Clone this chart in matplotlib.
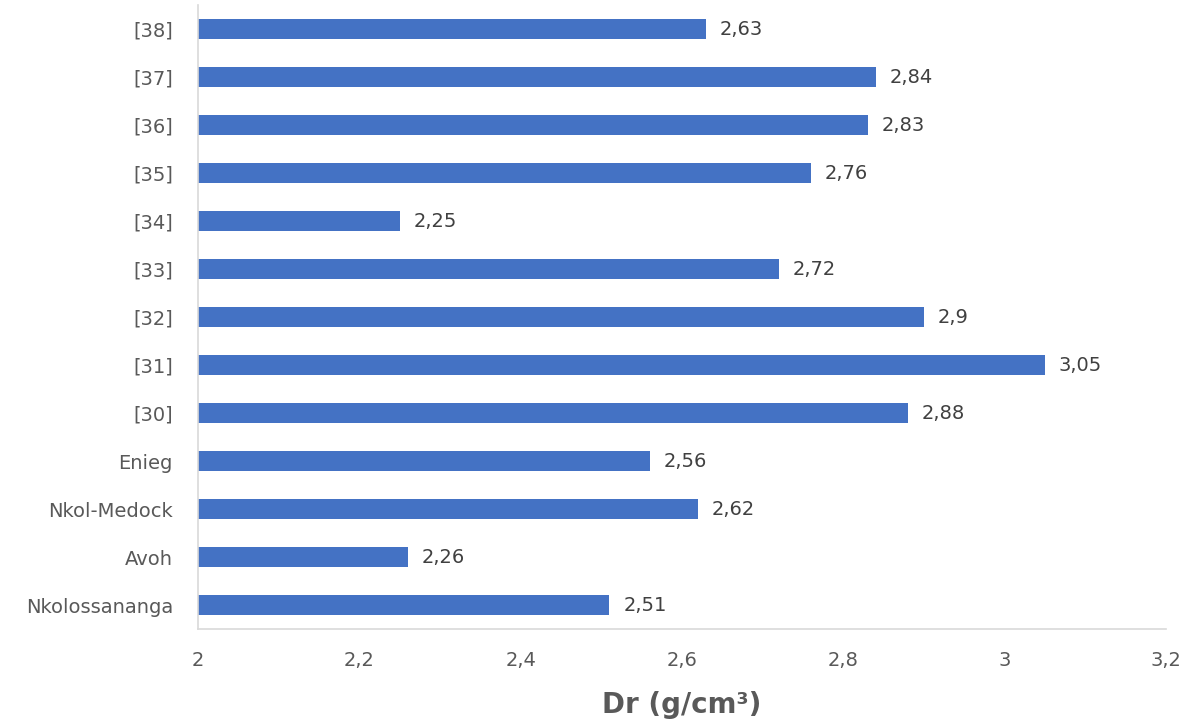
import matplotlib
matplotlib.use("Agg")
import matplotlib.pyplot as plt
from matplotlib.ticker import FuncFormatter

categories = ["Nkolossananga", "Avoh", "Nkol-Medock", "Enieg", "[30]", "[31]", "[32]",
              "[33]", "[34]", "[35]", "[36]", "[37]", "[38]"]
values = [2.51, 2.26, 2.62, 2.56, 2.88, 3.05, 2.9, 2.72, 2.25, 2.76, 2.83, 2.84, 2.63]
xticks = [2, 2.2, 2.4, 2.6, 2.8, 3, 3.2]

plt.rcParams['font.family'] = ['DejaVu Sans']

fig = plt.figure(figsize=(11.89, 7.27), dpi=100)
ax = fig.add_axes([0.1665, 0.1348, 0.8142, 0.858])
y = list(range(len(categories)))
ax.barh(y, [v - 2 for v in values], left=2, height=0.42, color="#4472C4")
ax.set_xlim(2, 3.2)
ax.set_ylim(-0.5, len(categories) - 0.5)
ax.set_yticks(y)
ax.set_yticklabels(categories)
ax.set_xticks(xticks)
fmt = lambda v, p: ("%g" % v).replace(".", ",")
ax.xaxis.set_major_formatter(FuncFormatter(fmt))
for yi, v in zip(y, values):
    ax.annotate(fmt(v, None), (v, yi), xytext=(10, 0), textcoords="offset points",
                va="center", ha="left", fontsize=14, color="#404040")
for s in ["top", "right"]:
    ax.spines[s].set_visible(False)
for s in ["left", "bottom"]:
    ax.spines[s].set_color("#d9d9d9")
    ax.spines[s].set_linewidth(1.2)
ax.tick_params(length=0, labelsize=14, colors="#595959")
ax.tick_params(axis="y", pad=18)
ax.tick_params(axis="x", pad=16)
ax.set_xlabel("Dr (g/cm³)", fontsize=20, fontweight="bold", color="#595959", labelpad=15)
fig.savefig("out.png", dpi=100)
